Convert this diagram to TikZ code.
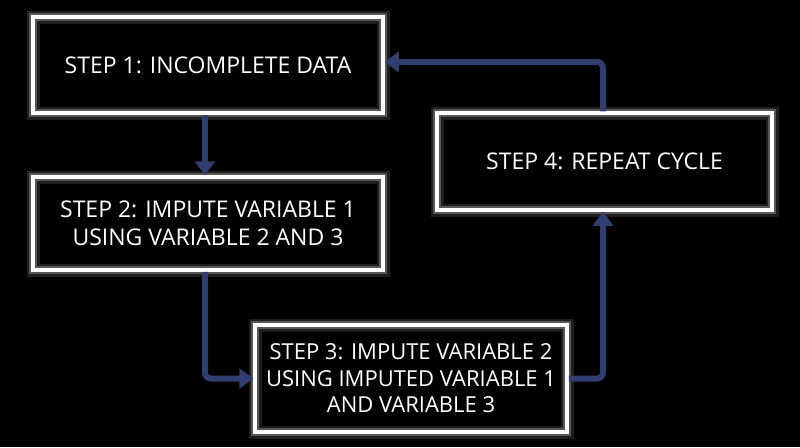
\documentclass[tikz,border=0pt]{standalone}
\usepackage{fontspec}
\setmainfont{Open Sans}
\usetikzlibrary{arrows.meta}
\definecolor{arr}{HTML}{2F3E6E}
\tikzset{
  box/.style={draw=white, line width=3.5pt, minimum width=#1, align=center, text=white, font=\fontsize{23}{27.5}\selectfont,
    preaction={draw=white, line width=13pt, opacity=0.12},
    preaction={draw=white, line width=8pt, opacity=0.25}},
  conn/.style={draw=arr, line width=6pt, -{Triangle[length=14pt,width=20pt]}}
}
\begin{document}
\begin{tikzpicture}[x=1pt,y=-1pt]
\fill[black] (0,0) rectangle (800,447);
\useasboundingbox (0,0) rectangle (800,447);
\node[box=350pt, minimum height=96pt] (s1) at (208,65) {STEP 1: INCOMPLETE DATA};
\node[box=350pt, minimum height=93pt] (s2) at (208,223.5) {STEP 2: IMPUTE VARIABLE 1\\USING VARIABLE 2 AND 3};
\node[box=312pt, minimum height=107pt, font=\fontsize{22}{26.5}\selectfont] (s3) at (411,378.5) {STEP 3: IMPUTE VARIABLE 2\\USING IMPUTED VARIABLE 1\\AND VARIABLE 3};
\node[box=335pt, minimum height=97pt] (s4) at (604.5,161.5) {STEP 4: REPEAT CYCLE};
\draw[conn] (s1.south -| 205,0) -- (s2.north -| 205,0);
\draw[conn, rounded corners=6pt] (s2.south -| 205,0) |- (s3.west);
\draw[conn, rounded corners=6pt] (s3.east) -| (s4.south -| 603,0);
\draw[conn, rounded corners=6pt] (s4.north -| 603,0) |- (s1.east |- 0,62);
\end{tikzpicture}
\end{document}
